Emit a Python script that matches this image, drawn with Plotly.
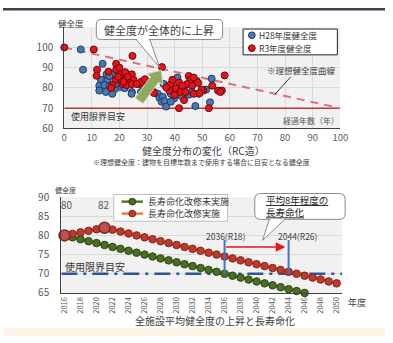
import plotly.graph_objects as go

W, H = 393, 343
def X(px): return px / W
def Y(py): return 1 - py / H

FONT = "Noto Sans CJK JP"

# ---------------- data: top chart (health score vs. elapsed years) ----------------
h28_x = [6.0, 6.8, 13.9, 15.3, 17.4, 13.3, 15.7, 19.8, 12.7, 14.5,
         16.5, 20.4, 18.4, 21.9, 12.7, 15.1, 17.4, 24.5, 24.4, 27.8,
         30.5, 32.5, 33.9, 34.5, 35.7, 35.3, 36.3, 36.9, 38.6, 39.8,
         38.6, 41.0, 43.4, 45.1, 46.3, 41.0, 48.0, 48.7, 51.4, 53.4,
         52.8, 47.5, 36.0, 30.0, 42.5, 16.3, 18.6]
h28_y = [99.0, 89.0, 91.9, 86.7, 86.7, 84.0, 84.0, 83.5, 81.1, 81.4,
         81.1, 80.5, 79.5, 79.9, 78.7, 78.0, 77.1, 78.0, 77.1, 78.0,
         79.5, 78.0, 77.1, 75.1, 75.6, 73.2, 73.5, 70.8, 77.1, 74.8,
         73.2, 84.0, 80.3, 76.7, 78.0, 85.1, 83.5, 77.1, 79.2, 84.6,
         72.9, 71.1, 82.0, 83.0, 76.0, 85.9, 81.9]

r3_x = [0.0, 10.7, 24.7, 11.9, 11.7, 18.8, 18.8, 20.4, 22.7, 24.5,
        22.1, 18.6, 22.1, 23.3, 25.1, 17.4, 21.0, 22.7, 24.5, 27.4,
        27.8, 29.2, 35.4, 32.5, 37.5, 38.6, 38.0, 40.4, 41.6, 42.1,
        45.1, 45.7, 44.5, 46.3, 43.9, 43.4, 41.6, 39.2, 58.1, 53.6,
        50.4, 46.9, 46.9, 55.7, 57.1, 56.6, 52.4, 49.8, 16.0, 20.0,
        23.0, 19.5, 21.5, 26.3, 36.9, 42.8, 49.0, 17.0, 40.0, 48.5]
r3_y = [100.0, 99.0, 95.8, 89.0, 86.0, 91.9, 89.0, 86.7, 86.7, 86.7,
        87.8, 84.0, 84.3, 83.5, 84.0, 81.4, 81.9, 81.4, 81.9, 81.9,
        83.0, 84.3, 90.3, 77.5, 80.3, 81.9, 78.7, 79.9, 82.7, 78.0,
        85.9, 84.0, 81.9, 81.1, 78.0, 74.0, 70.0, 84.0, 86.2, 81.1,
        78.7, 77.1, 85.1, 78.7, 78.7, 78.0, 70.0, 79.2, 88.0, 90.0,
        85.5, 85.5, 83.0, 81.9, 80.3, 81.1, 77.5, 80.0, 76.5, 82.5]

ideal_x = [0, 100]
ideal_y = [100, 70]
limit_top = 70
top_x_ticks = [0, 10, 20, 30, 40, 50, 60, 70, 80, 90, 100]
top_y_ticks = [60, 70, 80, 90, 100]

# ---------------- data: bottom chart (average health score by year) ----------------
years_renov = [2016, 2017, 2018, 2019, 2020, 2021, 2022, 2023, 2024, 2025,
               2026, 2027, 2028, 2029, 2030, 2031, 2032, 2033, 2034, 2035,
               2036, 2037, 2038, 2039, 2040, 2041, 2042, 2043, 2044, 2045,
               2046, 2047, 2048, 2049, 2050]
renov = [80.0, 80.4, 80.8, 81.2, 81.6, 82.0, 81.5, 81.0, 80.5, 80.0,
         79.5, 79.0, 78.5, 78.0, 77.5, 77.0, 76.5, 76.0, 75.5, 75.0,
         74.5, 74.0, 73.5, 73.0, 72.5, 72.0, 71.5, 71.0, 70.5, 70.0,
         69.5, 69.0, 68.5, 68.0, 67.5]
years_none = years_renov[:31]
no_renov = [80.0, 79.5, 79.0, 78.5, 78.0, 77.5, 77.0, 76.5, 76.0, 75.5,
            75.0, 74.5, 74.0, 73.5, 73.0, 72.5, 72.0, 71.5, 71.0, 70.5,
            70.0, 69.5, 69.0, 68.5, 68.0, 67.5, 67.0, 66.5, 66.0, 65.5,
            65.0]
key_years = [2016, 2021]
key_vals = [80, 82]
limit_bottom = 70
milestones = [2036, 2044]
milestone_labels = ["2036(R18)", "2044(R26)"]
bottom_x_ticks = years_renov[::2]

fig = go.Figure()

# ---- top chart traces ----
fig.add_trace(go.Scatter(x=[0, 100], y=[limit_top, limit_top], mode="lines",
                         line=dict(color="#b03a3a", width=1.6),
                         xaxis="x", yaxis="y", hoverinfo="skip"))
fig.add_trace(go.Scatter(x=ideal_x, y=ideal_y, mode="lines",
                         line=dict(color="#d9737a", width=2, dash="8px,6px"),
                         xaxis="x", yaxis="y", hoverinfo="skip"))
fig.add_trace(go.Scatter(x=h28_x, y=h28_y, mode="markers", name="H28年度健全度",
                         marker=dict(size=7, color="#4a78b5", line=dict(color="#1e3a63", width=1)),
                         xaxis="x", yaxis="y", cliponaxis=False))
fig.add_trace(go.Scatter(x=r3_x, y=r3_y, mode="markers", name="R3年度健全度",
                         marker=dict(size=7, color="#e5131b", line=dict(color="#6a0808", width=1)),
                         xaxis="x", yaxis="y", cliponaxis=False))

# ---- bottom chart traces ----
fig.add_trace(go.Scatter(x=[2015.6, 2050.7], y=[limit_bottom, limit_bottom], mode="lines",
                         line=dict(color="#2e5597", width=2.5, dash="16px,6px,3px,6px"),
                         xaxis="x2", yaxis="y2", hoverinfo="skip"))
fig.add_trace(go.Scatter(x=years_none, y=no_renov, mode="lines+markers", name="長寿命化改修未実施",
                         line=dict(color="#4f7a28", width=2.5),
                         marker=dict(size=7.5, color="#4a6e22", line=dict(color="#2c4512", width=1)),
                         xaxis="x2", yaxis="y2", cliponaxis=False))
fig.add_trace(go.Scatter(x=years_renov, y=renov, mode="lines+markers", name="長寿命化改修実施",
                         line=dict(color="#ef7b3c", width=2.5),
                         marker=dict(size=7.5, color="#c0392b", line=dict(color="#7d2418", width=1)),
                         xaxis="x2", yaxis="y2", cliponaxis=False))
fig.add_trace(go.Scatter(x=key_years, y=key_vals, mode="markers",
                         marker=dict(size=11, color="#c0504d", line=dict(color="#7a2a22", width=1.5)),
                         xaxis="x2", yaxis="y2", cliponaxis=False))

shapes = []
annotations = []

def txt(px, py, s, size, color="#404040", xanchor="center", yanchor="middle"):
    annotations.append(dict(x=X(px), y=Y(py), xref="paper", yref="paper", text=s,
                            showarrow=False, xanchor=xanchor, yanchor=yanchor, align="left",
                            font=dict(size=size, color=color, family=FONT)))

def poly(pts, fill, line, width=1, layer="above"):
    d = "M " + " L ".join(f"{X(a):.5f},{Y(b):.5f}" for a, b in pts) + " Z"
    shapes.append(dict(type="path", path=d, xref="paper", yref="paper",
                       fillcolor=fill, line=dict(color=line, width=width), layer=layer))

def rrect(x0, y0, x1, y1, r, fill, line, width=1):
    rx, ry = r / W, r / H
    a0, a1 = X(x0), X(x1)
    b0, b1 = Y(y1), Y(y0)   # b0 bottom, b1 top
    d = (f"M {a0+rx},{b1} L {a1-rx},{b1} Q {a1},{b1} {a1},{b1-ry} "
         f"L {a1},{b0+ry} Q {a1},{b0} {a1-rx},{b0} L {a0+rx},{b0} "
         f"Q {a0},{b0} {a0},{b0+ry} L {a0},{b1-ry} Q {a0},{b1} {a0+rx},{b1} Z")
    shapes.append(dict(type="path", path=d, xref="paper", yref="paper",
                       fillcolor=fill, line=dict(color=line, width=width)))

def seg(x0, y0, x1, y1, color, width=1):
    shapes.append(dict(type="line", x0=X(x0), y0=Y(y0), x1=X(x1), y1=Y(y1),
                       xref="paper", yref="paper", line=dict(color=color, width=width)))

def dot(cx, cy, r, fill, line):
    shapes.append(dict(type="circle", x0=X(cx - r), x1=X(cx + r), y0=Y(cy + r), y1=Y(cy - r),
                       xref="paper", yref="paper", fillcolor=fill, line=dict(color=line, width=1)))

# page decorations
shapes.append(dict(type="rect", x0=0, x1=1, y0=Y(2.5), y1=1, xref="paper", yref="paper",
                   fillcolor="#3a4150", line=dict(width=0), layer="below"))
shapes.append(dict(type="rect", x0=0, x1=1, y0=0, y1=Y(335), xref="paper", yref="paper",
                   fillcolor="#fcf5e6", line=dict(width=0), layer="below"))

# ---- top chart decorations ----
u = (0.58, -0.81); n = (0.81, 0.58)
T = (140, 97); P = (163, 65)
B = (P[0] - 12 * u[0], P[1] - 12 * u[1])
def off(p, k): return (p[0] + k * n[0], p[1] + k * n[1])
poly([off(T, -5), off(B, -5), off(B, -10), P, off(B, 10), off(B, 5), off(T, 5)],
     "#8fa95e", "#d4dcc4", 1)

poly([(137, 33), (151, 33), (161, 62)], "#ffffff", "#8a8a8a", 1)
rrect(96, 12, 226, 33, 5, "#ffffff", "#8a8a8a", 1)
seg(138, 33, 150, 33, "#ffffff", 1.6)
txt(161, 23, "健全度が全体的に上昇", 11, "#404040")

shapes.append(dict(type="rect", x0=X(247), x1=X(344), y0=Y(49), y1=Y(22), xref="paper", yref="paper",
                   fillcolor="#ffffff", line=dict(color="#222222", width=1)))
dot(256, 28.5, 3.5, "#4a78b5", "#1e3a63")
dot(256, 42, 3.5, "#e5131b", "#6a0808")
txt(261, 28.5, "H28年度健全度", 8.5, "#333333", xanchor="left")
txt(261, 42, "R3年度健全度", 8.5, "#333333", xanchor="left")

txt(70, 16, "健全度", 8.5, "#404040")
txt(307, 65, "※理想健全度曲線", 8.5, "#404040")
seg(296, 72, 280, 90, "#333333", 1)
txt(317, 118, "経過年数（年）", 8, "#555555")
txt(68, 113, "使用限界目安", 9, "#333333", xanchor="left")
txt(206, 149.5, "健全度分布の変化（RC造）", 10, "#404040")
txt(204, 161.5, "※理想健全度：建物を目標年数まで使用する場合に目安となる健全度", 7, "#404040")

# ---- bottom chart decorations ----
for yr in milestones:
    shapes.append(dict(type="line", x0=yr, x1=yr, y0=limit_bottom, y1=78.8, xref="x2", yref="y2",
                       line=dict(color="#4472c4", width=2)))
annotations.append(dict(x=milestones[1] - 0.4, y=77, ax=milestones[0], ay=77,
                        xref="x2", yref="y2", axref="x2", ayref="y2", text="",
                        showarrow=True, arrowhead=2, arrowsize=1.2, arrowwidth=1.6,
                        arrowcolor="#e8161b"))
txt(229.5, 238, milestone_labels[0], 8.5, "#404040")
txt(304, 238, milestone_labels[1], 8.5, "#404040")

poly([(274, 221), (290, 221), (267, 243)], "#ffffff", "#8a8a8a", 1)
rrect(259, 194, 352, 221, 6, "#ffffff", "#8a8a8a", 1)
seg(275, 221, 289, 221, "#ffffff", 1.6)
txt(269, 207.5, "<u>平均8年程度の</u><br><u>長寿命化</u>", 9.5, "#222222", xanchor="left")

shapes.append(dict(type="rect", x0=X(114), x1=X(231), y0=Y(223), y1=Y(195), xref="paper", yref="paper",
                   fillcolor="#ffffff", line=dict(color="#bfbfbf", width=1)))
seg(122, 202.5, 144, 202.5, "#4f7a28", 2.5)
dot(133, 202.5, 3.5, "#4a6e22", "#2c4512")
seg(122, 215, 144, 215, "#ef7b3c", 2.5)
dot(133, 215, 3.5, "#c0392b", "#7d2418")
txt(147, 202.5, "長寿命化改修未実施", 9, "#333333", xanchor="left")
txt(147, 215, "長寿命化改修実施", 9, "#333333", xanchor="left")

txt(64, 190, "健全度", 7, "#404040")
txt(66, 205, "80", 10, "#595959")
txt(104, 205, "82", 10, "#595959")
txt(62, 270, "使用限界目安", 10, "#333333", xanchor="left")
txt(364, 308, "年度", 9, "#404040")
txt(218, 327, "全施設平均健全度の上昇と長寿命化", 10, "#404040")

axis_font = dict(size=10, color="#595959", family=FONT)
fig.update_layout(
    width=W, height=H, margin=dict(l=0, r=0, t=0, b=0),
    paper_bgcolor="#ffffff", plot_bgcolor="#f1f1f1",
    showlegend=False, font=dict(family=FONT),
    xaxis=dict(domain=[X(63), X(347)], range=[0, 100], anchor="y", tickvals=top_x_ticks,
               showgrid=True, gridcolor="#dadada", zeroline=False, showline=True,
               linecolor="#404040", linewidth=1, ticks="",
               tickfont=dict(size=9.5, color="#595959", family=FONT), ticklabelstandoff=0),
    yaxis=dict(domain=[Y(126), Y(20)], range=[60, 110], anchor="x", tickvals=top_y_ticks,
               showgrid=True, gridcolor="#dadada", zeroline=False, showline=True,
               linecolor="#404040", linewidth=1, ticks="", tickfont=axis_font, ticklabelstandoff=8),
    xaxis2=dict(domain=[X(60), X(349)], range=[2015.6, 2050.7], anchor="y2", tickvals=bottom_x_ticks,
                tickangle=-90, showgrid=False, zeroline=False, showline=True, linecolor="#404040",
                linewidth=1.2, ticks="", tickfont=dict(size=7.5, color="#595959", family=FONT),
                ticklabelstandoff=0),
    yaxis2=dict(domain=[Y(298), Y(197.7)], range=[65, 90], anchor="x2", dtick=5,
                showgrid=True, gridcolor="#d9d9d9", zeroline=False, showline=True,
                linecolor="#404040", linewidth=1.2, ticks="", tickfont=axis_font, ticklabelstandoff=9),
    shapes=shapes, annotations=annotations,
)

fig.write_html("out.html")
